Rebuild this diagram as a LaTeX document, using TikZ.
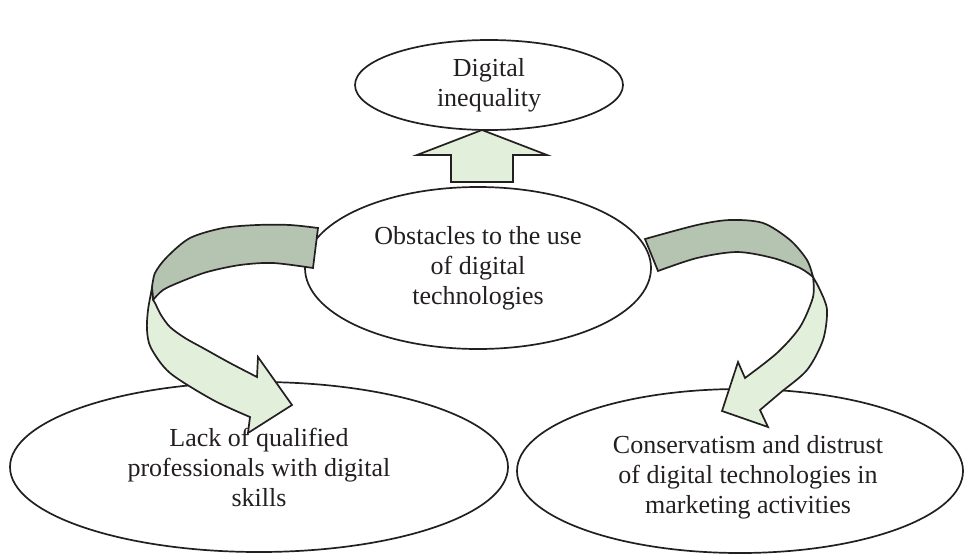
\documentclass[tikz,border=0pt]{standalone}
\usepackage{fontspec}
\setmainfont{Liberation Serif}
\usetikzlibrary{shapes.geometric}
\definecolor{lightg}{RGB}{226,239,218}
\definecolor{darkg}{RGB}{181,196,177}
\definecolor{ink}{RGB}{35,31,32}
\begin{document}
\begin{tikzpicture}[x=1pt,y=-1pt,
  oval/.style={ellipse, draw=ink, line width=1.7pt, inner sep=0pt, align=center,
    font=\fontsize{26}{30}\selectfont, text=ink},
  band/.style={draw=ink, line width=1.7pt, line join=miter}]
\useasboundingbox (0,0) rectangle (965,554);

\node[oval, minimum width=268pt, minimum height=90pt] (top) at (489,85) {Digital\\inequality};
\node[oval, minimum width=346pt, minimum height=162pt] (mid) at (478,268) {Obstacles to the use\\of digital\\technologies};
\node[oval, minimum width=498pt, minimum height=170pt] (bl) at (259,467) {Lack of qualified\\professionals with digital\\skills};
\node[oval, minimum width=446pt, minimum height=164pt] (br) at (740,471) {};
\node[font=\fontsize{26}{30}\selectfont, text=ink, align=center] (brt) at (748,477) {Conservatism and distrust\\of digital technologies in\\marketing activities};

% up arrow
\draw[band, fill=lightg] (482,130) -- (547,155) -- (513,155) -- (513,182) -- (451,182) -- (451,155) -- (417,155) -- cycle;

% left curved arrow: back (dark) band
\draw[band, fill=darkg] plot[smooth] coordinates {(318,228) (290,225) (257,225) (223,228) (190,238) (167,257) (155,273) (152,288)}
  -- plot[smooth] coordinates {(153,300) (163,290) (180,282) (207,272) (240,265) (273,263) (313,268)} -- cycle;
% left curved arrow: front (light) band
\draw[band, fill=lightg] plot[smooth] coordinates {(152,288) (148,310) (147,330) (151,348) (170,373) (213,400) (250,417)}
  -- (248,433) -- (292,405) -- (258,357) --
  plot[smooth] coordinates {(257,377) (230,363) (203,348) (185,338) (170,327) (161,315) (155,303) (153,300)} -- cycle;

% right curved arrow: back (dark) band
\draw[band, fill=darkg] plot[smooth] coordinates {(645,239) (697,225) (730,220) (763,223) (790,240) (807,260) (813,277)}
  -- plot[smooth] coordinates {(813,277) (800,268) (773,258) (737,252) (697,258) (658,271)} -- cycle;
% right curved arrow: front (light) band
\draw[band, fill=lightg] plot[smooth] coordinates {(813,277) (820,290) (827,310) (823,340) (807,370) (780,393) (760,410)}
  -- (768,427) -- (722,411) -- (738,362) --
  plot[smooth] coordinates {(745,378) (777,353) (800,327) (813,297) (813,277)} -- cycle;
\end{tikzpicture}
\end{document}
